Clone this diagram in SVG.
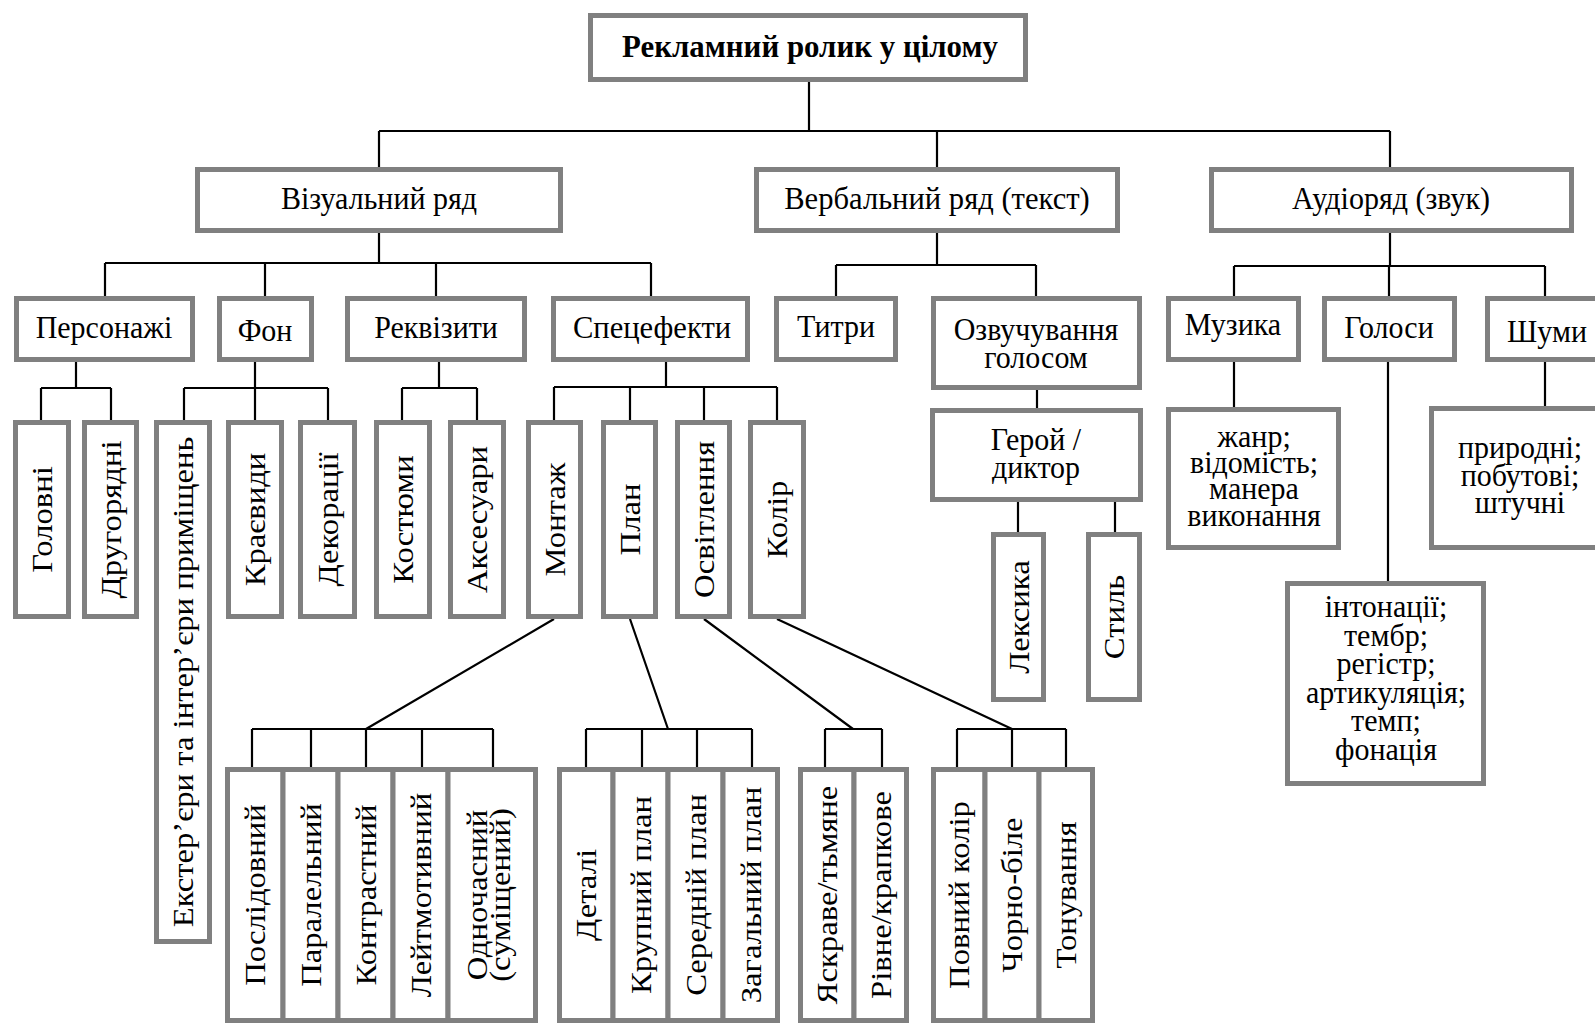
<svg xmlns="http://www.w3.org/2000/svg" width="1595" height="1024" viewBox="0 0 1595 1024">
<style>
.b{fill:#fff;stroke:#808080;stroke-width:5}
.t{font-family:"Liberation Serif","Times New Roman",serif;font-size:30px;fill:#000;text-anchor:middle}
.h{font-weight:bold;font-size:30px}
.c{fill:none;stroke:#000;stroke-width:2.2}
</style>
<rect width="1595" height="1024" fill="#fff"/>
<g id="connectors" class="c">
<path d="M809 82V131M379 131H1390M379 131V167M937 131V167M1390 131V167"/>
<path d="M379 233V263M105 263H651M105 263V296M265 263V296M436 263V296M651 263V296"/>
<path d="M937 233V265M836 265H1036M836 265V296M1036 265V296"/>
<path d="M1390 233V266M1234 266H1545M1234 266V296M1389 266V296M1545 266V296"/>
<path d="M76 362V388M41 388H111M41 388V420M111 388V420"/>
<path d="M255 362V388M184 388H328M184 388V420M255 388V420M328 388V420"/>
<path d="M439 362V388M402 388H477M402 388V420M477 388V420"/>
<path d="M666 362V387M554 387H777M554 387V420M630 387V420M704 387V420M777 387V420"/>
<path d="M1037 390V408M1018 502V532M1115 502V532M1234 362V407M1388 362V581M1545 362V406"/>
<path d="M554 619L366 729M630 619L668 729M704 619L853 729M777 619L1012 729"/>
<path d="M252 729H493M252 729V767M311 729V767M366 729V767M422 729V767M493 729V767"/>
<path d="M586 729H752M586 729V767M642 729V767M697 729V767M752 729V767"/>
<path d="M825 729H882M825 729V767M882 729V767"/>
<path d="M957 729H1066M957 729V767M1012 729V767M1066 729V767"/>
</g>
<g id="root"><rect class="b" x="590.5" y="15.5" width="435" height="64"/><text class="t h" transform="translate(810 57) scale(1.03 1.08)">Рекламний ролик у цілому</text></g>
<g id="visual"><rect class="b" x="197.5" y="169.5" width="363" height="61"/><text class="t" transform="translate(379 209) scale(1 1.08)">Візуальний ряд</text></g>
<g id="verbal"><rect class="b" x="756.5" y="169.5" width="361" height="61"/><text class="t" transform="translate(937 209) scale(1.02 1.08)">Вербальний ряд (текст)</text></g>
<g id="audio"><rect class="b" x="1211.5" y="169.5" width="360" height="61"/><text class="t" transform="translate(1391 209) scale(1 1.08)">Аудіоряд (звук)</text></g>
<g id="characters"><rect class="b" x="16.5" y="298.5" width="176" height="61"/><text class="t" transform="translate(104 338) scale(1 1.08)">Персонажі</text></g>
<g id="background"><rect class="b" x="219.5" y="298.5" width="92" height="61"/><text class="t" transform="translate(265 341) scale(1 1.08)">Фон</text></g>
<g id="props"><rect class="b" x="347.5" y="298.5" width="177" height="61"/><text class="t" transform="translate(436 338) scale(1 1.08)">Реквізити</text></g>
<g id="effects"><rect class="b" x="553.5" y="298.5" width="194" height="61"/><text class="t" transform="translate(652 338) scale(1.02 1.08)">Спецефекти</text></g>
<g id="titles"><rect class="b" x="776.5" y="298.5" width="119" height="61"/><text class="t" transform="translate(836 337) scale(1 1.08)">Титри</text></g>
<g id="voiceover"><rect class="b" x="933.5" y="298.5" width="206" height="89"/><text class="t" transform="translate(1036 340) scale(1 1.08)">Озвучування</text><text class="t" transform="translate(1036 368) scale(1 1.08)">голосом</text></g>
<g id="music"><rect class="b" x="1168.5" y="298.5" width="130" height="61"/><text class="t" transform="translate(1233 335) scale(1 1.08)">Музика</text></g>
<g id="voices"><rect class="b" x="1324.5" y="298.5" width="130" height="61"/><text class="t" transform="translate(1389 338) scale(1 1.08)">Голоси</text></g>
<g id="noises"><rect class="b" x="1487.5" y="298.5" width="120" height="61"/><text class="t" transform="translate(1547 342) scale(1 1.08)">Шуми</text></g>
<g id="hero"><rect class="b" x="932.5" y="410.5" width="208" height="89"/><text class="t" transform="translate(1036 450) scale(1 1.08)">Герой /</text><text class="t" transform="translate(1036 478) scale(1 1.08)">диктор</text></g>
<g id="music-detail"><rect class="b" x="1168.5" y="409.5" width="170" height="138"/><text class="t" transform="translate(1254 447) scale(1 1.08)">жанр;</text><text class="t" transform="translate(1254 473) scale(1 1.08)">відомість;</text><text class="t" transform="translate(1254 499) scale(1 1.08)">манера</text><text class="t" transform="translate(1254 526) scale(1 1.08)">виконання</text></g>
<g id="voices-detail"><rect class="b" x="1287.5" y="583.5" width="196" height="200"/><text class="t" transform="translate(1386 617) scale(1 1.08)">інтонації;</text><text class="t" transform="translate(1386 645.5) scale(1 1.08)">тембр;</text><text class="t" transform="translate(1386 674) scale(1 1.08)">регістр;</text><text class="t" transform="translate(1386 702.5) scale(1 1.08)">артикуляція;</text><text class="t" transform="translate(1386 731) scale(1 1.08)">темп;</text><text class="t" transform="translate(1386 759.5) scale(1 1.08)">фонація</text></g>
<g id="noises-detail"><rect class="b" x="1431.5" y="408.5" width="180" height="139"/><text class="t" transform="translate(1520 458) scale(1 1.08)">природні;</text><text class="t" transform="translate(1520 485.5) scale(1 1.08)">побутові;</text><text class="t" transform="translate(1520 513) scale(1 1.08)">штучні</text></g>
<g id="main"><rect class="b" x="15.5" y="422.5" width="53" height="194"/><text class="t" transform="translate(52 519.5) rotate(-90) scale(1.09 1)">Головні</text></g>
<g id="secondary"><rect class="b" x="84.5" y="422.5" width="52" height="194"/><text class="t" transform="translate(120.5 519.5) rotate(-90) scale(1.09 1)">Другорядні</text></g>
<g id="exteriors"><rect class="b" x="156.5" y="422.5" width="53" height="519"/><text class="t" transform="translate(193 682) rotate(-90) scale(1.09 1)">Екстер’єри та інтер’єри приміщень</text></g>
<g id="landscapes"><rect class="b" x="228.5" y="422.5" width="53" height="194"/><text class="t" transform="translate(265 519.5) rotate(-90) scale(1.09 1)">Краєвиди</text></g>
<g id="decorations"><rect class="b" x="300.5" y="422.5" width="54" height="194"/><text class="t" transform="translate(337.5 519.5) rotate(-90) scale(1.09 1)">Декорації</text></g>
<g id="costumes"><rect class="b" x="376.5" y="422.5" width="53" height="194"/><text class="t" transform="translate(413 519.5) rotate(-90) scale(1.09 1)">Костюми</text></g>
<g id="accessories"><rect class="b" x="450.5" y="422.5" width="53" height="194"/><text class="t" transform="translate(487 519.5) rotate(-90) scale(1.09 1)">Аксесуари</text></g>
<g id="montage"><rect class="b" x="528.5" y="422.5" width="52" height="194"/><text class="t" transform="translate(564.5 519.5) rotate(-90) scale(1.09 1)">Монтаж</text></g>
<g id="plan"><rect class="b" x="603.5" y="422.5" width="52" height="194"/><text class="t" transform="translate(639.5 519.5) rotate(-90) scale(1.09 1)">План</text></g>
<g id="lighting"><rect class="b" x="677.5" y="422.5" width="52" height="194"/><text class="t" transform="translate(713.5 519.5) rotate(-90) scale(1.09 1)">Освітлення</text></g>
<g id="colour"><rect class="b" x="750.5" y="422.5" width="53" height="194"/><text class="t" transform="translate(787 519.5) rotate(-90) scale(1.09 1)">Колір</text></g>
<g id="lexis"><rect class="b" x="993.5" y="534.5" width="50" height="165"/><text class="t" transform="translate(1028.5 617) rotate(-90) scale(1.09 1)">Лексика</text></g>
<g id="style"><rect class="b" x="1088.5" y="534.5" width="51" height="165"/><text class="t" transform="translate(1124 617) rotate(-90) scale(1.09 1)">Стиль</text></g>
<g id="m1"><rect class="b" x="227.5" y="769.5" width="55.5" height="251"/><text class="t" transform="translate(265 895) rotate(-90) scale(1.09 1)">Послідовний</text></g>
<g id="m2"><rect class="b" x="283" y="769.5" width="55" height="251"/><text class="t" transform="translate(320.5 895) rotate(-90) scale(1.09 1)">Паралельний</text></g>
<g id="m3"><rect class="b" x="338" y="769.5" width="55" height="251"/><text class="t" transform="translate(375.5 895) rotate(-90) scale(1.09 1)">Контрастний</text></g>
<g id="m4"><rect class="b" x="393" y="769.5" width="55" height="251"/><text class="t" transform="translate(430.5 895) rotate(-90) scale(1.09 1)">Лейтмотивний</text></g>
<g id="m5"><rect class="b" x="448" y="769.5" width="87.5" height="251"/><text class="t" transform="translate(487 895) rotate(-90) scale(1.09 1)">Одночасний</text><text class="t" transform="translate(510 895) rotate(-90) scale(1.09 1)">(суміщений)</text></g>
<g id="p1"><rect class="b" x="559.5" y="769.5" width="53.5" height="251"/><text class="t" transform="translate(596 895) rotate(-90) scale(1.09 1)">Деталі</text></g>
<g id="p2"><rect class="b" x="613" y="769.5" width="55" height="251"/><text class="t" transform="translate(650.5 895) rotate(-90) scale(1.09 1)">Крупний план</text></g>
<g id="p3"><rect class="b" x="668" y="769.5" width="55" height="251"/><text class="t" transform="translate(705.5 895) rotate(-90) scale(1.09 1)">Середній план</text></g>
<g id="p4"><rect class="b" x="723" y="769.5" width="54.5" height="251"/><text class="t" transform="translate(760.5 895) rotate(-90) scale(1.09 1)">Загальний план</text></g>
<g id="l1"><rect class="b" x="800.5" y="769.5" width="53.5" height="251"/><text class="t" transform="translate(837 895) rotate(-90) scale(1.09 1)">Яскраве/тьмяне</text></g>
<g id="l2"><rect class="b" x="854" y="769.5" width="52.5" height="251"/><text class="t" transform="translate(890.5 895) rotate(-90) scale(1.09 1)">Рівне/крапкове</text></g>
<g id="c1"><rect class="b" x="933.5" y="769.5" width="51.5" height="251"/><text class="t" transform="translate(969 895) rotate(-90) scale(1.09 1)">Повний колір</text></g>
<g id="c2"><rect class="b" x="985" y="769.5" width="54" height="251"/><text class="t" transform="translate(1022 895) rotate(-90) scale(1.09 1)">Чорно-біле</text></g>
<g id="c3"><rect class="b" x="1039" y="769.5" width="53.5" height="251"/><text class="t" transform="translate(1076 895) rotate(-90) scale(1.09 1)">Тонування</text></g>
</svg>
